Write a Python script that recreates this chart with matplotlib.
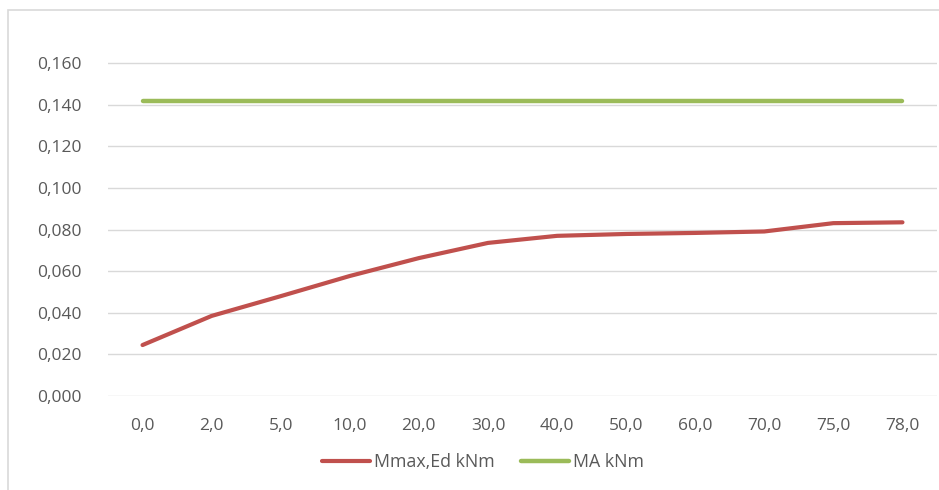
import matplotlib
matplotlib.use("Agg")
import matplotlib.pyplot as plt
from matplotlib.patches import Rectangle

categories = ["0,0", "2,0", "5,0", "10,0", "20,0", "30,0", "40,0", "50,0", "60,0", "70,0", "75,0", "78,0"]
mmax_ed = [0.0245, 0.0385, 0.0480, 0.0577, 0.0663, 0.0736, 0.0770, 0.0779, 0.0784, 0.0791, 0.0831, 0.0835]
ma = [0.142] * 12
y_ticks = [0.0, 0.02, 0.04, 0.06, 0.08, 0.10, 0.12, 0.14, 0.16]
y_labels = ["0,000", "0,020", "0,040", "0,060", "0,080", "0,100", "0,120", "0,140", "0,160"]

W, H = 939, 490
fig = plt.figure(figsize=(W / 100, H / 100), dpi=100)
plt.rcParams['font.family'] = ['Open Sans', 'DejaVu Sans']

# outer chart border (continues past the right and bottom edges)
fig.patches.append(Rectangle((8 / W, -0.05), 1.1, 1.05 - 10 / H, transform=fig.transFigure,
                             fill=False, edgecolor="#d9d9d9", linewidth=1.2))

ax = fig.add_axes([108 / W, 1 - 396 / H, (937 - 108) / W, (396 - 21.6) / H])
x = list(range(len(categories)))
ax.plot(x, mmax_ed, color="#C0504D", linewidth=3.0, solid_capstyle="round", label="Mmax,Ed kNm", zorder=3)
ax.plot(x, ma, color="#9BBB59", linewidth=3.2, solid_capstyle="round", label="MA kNm", zorder=3)

ax.set_xlim(-0.5, len(categories) - 0.5)
ax.set_ylim(0, 0.18)
ax.set_yticks(y_ticks)
ax.set_yticklabels(y_labels)
ax.set_xticks(x)
ax.set_xticklabels(categories)
for s in ax.spines.values():
    s.set_visible(False)
ax.tick_params(axis="both", length=0, colors="#595959", labelsize=12.5)
ax.tick_params(axis="y", pad=19)
ax.tick_params(axis="x", pad=16)
for yv in y_ticks:
    ax.axhline(yv, color="#d9d9d9", linewidth=1.0, zorder=1)

leg = fig.legend(loc="center", bbox_to_anchor=(483 / W, 1 - 462 / H), ncol=2, frameon=False,
                 fontsize=12.8, handlelength=2.7, handletextpad=0.2, columnspacing=1.5,
                 labelcolor="#595959")

fig.savefig("out.png", dpi=100)
